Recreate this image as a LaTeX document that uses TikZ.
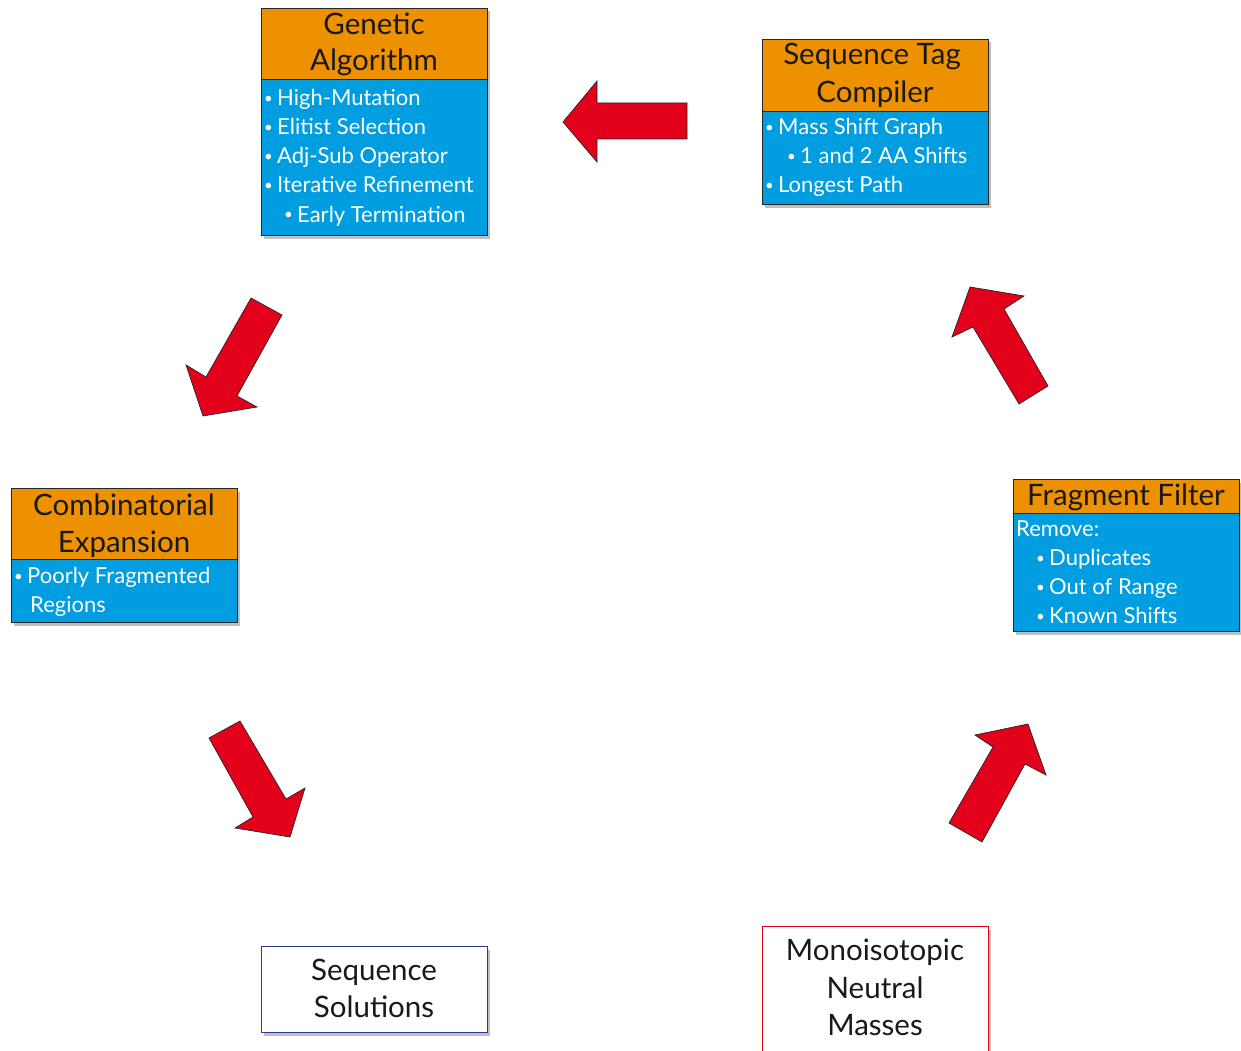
\documentclass[tikz,border=0pt]{standalone}
\usepackage{fontspec}
\setmainfont{Lato}
\usetikzlibrary{shadows}
\definecolor{hdrorange}{HTML}{EE9100}
\definecolor{bdyblue}{HTML}{009EE0}
\definecolor{arrowred}{HTML}{E2001A}
\definecolor{framegray}{HTML}{262626}
\definecolor{solblue}{HTML}{2B3990}
\definecolor{massred}{HTML}{E2001A}
% small list bullet followed by the item text
\newcommand\itembul{\makebox[13pt][l]{\raisebox{2pt}{\fontsize{15}{15}\selectfont\textbullet}}}
\begin{document}
\begin{tikzpicture}[x=1pt,y=-1pt,
  frame/.style={draw=framegray, line width=1pt, inner sep=0pt, anchor=north west,
    drop shadow={shadow xshift=2pt, shadow yshift=-3pt, opacity=0.25, fill=black}},
  hdr/.style={fill=hdrorange, draw=framegray, line width=1pt, inner sep=0pt, anchor=north west},
  bdy/.style={fill=bdyblue, draw=framegray, line width=1pt, inner sep=0pt, anchor=north west},
  ttl/.style={font=\fontsize{29.5}{36}\selectfont, text=black!90, inner sep=0pt, anchor=base},
  itm/.style={font=\fontsize{22}{29}\selectfont, text=white, inner sep=0pt, anchor=base west},
  endtxt/.style={font=\fontsize{29.5}{36}\selectfont, text=black!90, inner sep=0pt, anchor=base},
  blockarrow/.style={fill=arrowred, draw=black!85, line width=0.7pt, line join=miter}
]
\useasboundingbox (0,0) rectangle (1241,1051);
\clip (0,0) rectangle (1241,1051);

% ---------- Genetic Algorithm ----------
\node[frame, minimum width=226pt, minimum height=227pt] (ga) at (261,8) {};
\node[hdr, minimum width=226pt, minimum height=71pt] (ga-h) at (261,8) {};
\node[bdy, minimum width=226pt, minimum height=156pt] (ga-b) at (261,79) {};
\node[ttl] (ga-t1) at (374,35) {Genetic};
\node[ttl] (ga-t2) at (374,71) {Algorithm};
\node[itm] (ga-1) at (264,106) {\itembul High-Mutation};
\node[itm] (ga-2) at (264,135) {\itembul Elitist Selection};
\node[itm] (ga-3) at (264,164) {\itembul Adj-Sub Operator};
\node[itm] (ga-4) at (264,193) {\itembul Iterative Refinement};
\node[itm] (ga-5) at (284,222) {\itembul Early Termination};

% ---------- Sequence Tag Compiler ----------
\node[frame, minimum width=226pt, minimum height=165pt] (stc) at (762,39) {};
\node[hdr, minimum width=226pt, minimum height=72pt] (stc-h) at (762,39) {};
\node[bdy, minimum width=226pt, minimum height=93pt] (stc-b) at (762,111) {};
\node[ttl] (stc-t1) at (872,65) {Sequence Tag};
\node[ttl] (stc-t2) at (875,103) {Compiler};
\node[itm] (stc-1) at (765,135) {\itembul Mass Shift Graph};
\node[itm] (stc-2) at (787,164) {\itembul 1 and 2 AA Shifts};
\node[itm] (stc-3) at (765,193) {\itembul Longest Path};

% ---------- Combinatorial Expansion ----------
\node[frame, minimum width=226pt, minimum height=134pt] (ce) at (11,488) {};
\node[hdr, minimum width=226pt, minimum height=71pt] (ce-h) at (11,488) {};
\node[bdy, minimum width=226pt, minimum height=63pt] (ce-b) at (11,559) {};
\node[ttl] (ce-t1) at (124,515) {Combinatorial};
\node[ttl] (ce-t2) at (124,552) {Expansion};
\node[itm] (ce-1) at (14,583) {\itembul Poorly Fragmented};
\node[itm] (ce-2) at (30,612) {Regions};

% ---------- Fragment Filter ----------
\node[frame, minimum width=226pt, minimum height=152pt] (ff) at (1013,479) {};
\node[hdr, minimum width=226pt, minimum height=34pt] (ff-h) at (1013,479) {};
\node[bdy, minimum width=226pt, minimum height=118pt] (ff-b) at (1013,513) {};
\node[ttl] (ff-t1) at (1126,505) {Fragment Filter};
\node[itm] (ff-0) at (1016,536) {Remove:};
\node[itm] (ff-1) at (1036,565) {\itembul Duplicates};
\node[itm] (ff-2) at (1036,594) {\itembul Out of Range};
\node[itm] (ff-3) at (1036,623) {\itembul Known Shifts};

% ---------- Sequence Solutions ----------
\node[frame, draw=solblue, fill=white, minimum width=226pt, minimum height=86pt] (ss) at (261,946) {};
\node[endtxt] (ss-t1) at (374,980) {Sequence};
\node[endtxt] (ss-t2) at (374,1017) {Solutions};

% ---------- Monoisotopic Neutral Masses ----------
\node[frame, draw=massred, fill=white, minimum width=226pt, minimum height=140pt] (mm) at (762,926) {};
\node[endtxt] (mm-t1) at (875,960) {Monoisotopic};
\node[endtxt] (mm-t2) at (875,998) {Neutral};
\node[endtxt] (mm-t3) at (875,1035) {Masses};

% ---------- block arrows ----------
% Tag compiler -> genetic algorithm
\draw[blockarrow] (563,122) -- (597,81) -- (597,103) -- (687,103) -- (687,139)
  -- (597,139) -- (597,162) -- cycle;
% genetic algorithm -> combinatorial expansion
\draw[blockarrow] (251,298) -- (282,315) -- (237,396) -- (257,407) -- (203,416)
  -- (186,365) -- (206,377) -- cycle;
% combinatorial expansion -> solutions
\draw[blockarrow] (209,738) -- (240,721) -- (286,799) -- (305,788) -- (290,837)
  -- (235,828) -- (253,817) -- cycle;
% masses -> fragment filter
\draw[blockarrow] (949,823) -- (982,842) -- (1025,764) -- (1046,775) -- (1028,724)
  -- (975,735) -- (993,747) -- cycle;
% fragment filter -> tag compiler
\draw[blockarrow] (1048,386) -- (1019,404) -- (973,327) -- (952,337) -- (970,287)
  -- (1024,296) -- (1004,309) -- cycle;
\end{tikzpicture}
\end{document}
